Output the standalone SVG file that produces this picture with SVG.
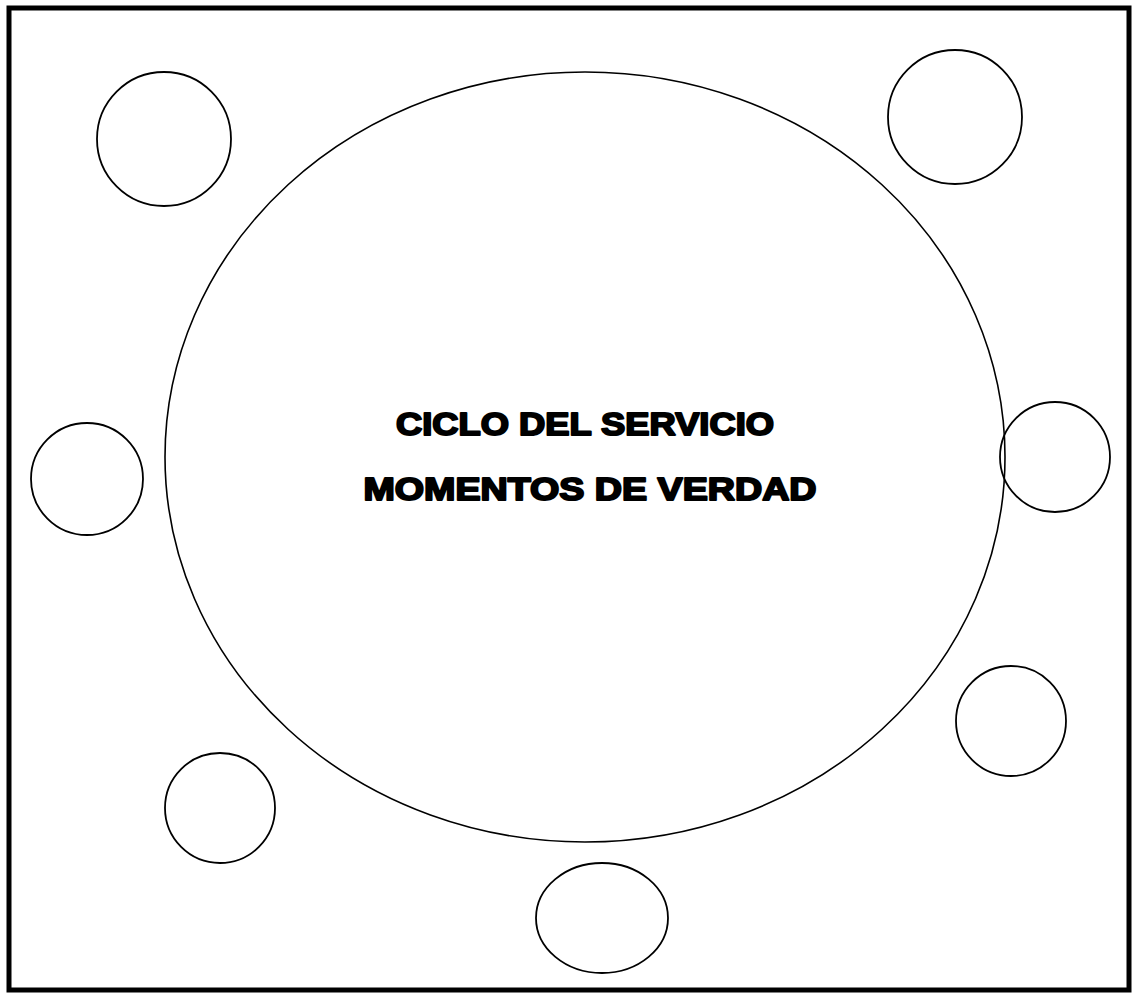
<svg xmlns="http://www.w3.org/2000/svg" width="1133" height="995" viewBox="0 0 1133 995">
<style>
.frame{fill:none;stroke:#000;stroke-width:5}
.big{fill:none;stroke:#000;stroke-width:1.6}
.small{fill:none;stroke:#000;stroke-width:1.8}
.title{font-family:"Liberation Sans",Arial,sans-serif;font-weight:bold;font-size:32px;fill:#000;stroke:#000;stroke-width:2;stroke-linejoin:round;text-anchor:middle}
</style>
<rect width="1133" height="995" fill="#fff"/>
<rect class="frame" x="9" y="8" width="1120" height="982"/>
<g id="ciclo">
<ellipse class="big" cx="585" cy="457" rx="420" ry="385"/>
<text class="title" x="585" y="435" textLength="378" lengthAdjust="spacingAndGlyphs">CICLO DEL SERVICIO</text>
<text class="title" x="590" y="500" textLength="453" lengthAdjust="spacingAndGlyphs">MOMENTOS DE VERDAD</text>
</g>
<g id="m1"><circle class="small" cx="164" cy="139" r="67"/></g>
<g id="m2"><circle class="small" cx="955" cy="117" r="67"/></g>
<g id="m3"><circle class="small" cx="87" cy="479" r="56"/></g>
<g id="m4"><circle class="small" cx="1055" cy="457" r="55"/></g>
<g id="m5"><circle class="small" cx="1011" cy="721" r="55"/></g>
<g id="m6"><circle class="small" cx="220" cy="808" r="55"/></g>
<g id="m7"><ellipse class="small" cx="602" cy="918" rx="66" ry="55"/></g>
<g id="connectors"></g>
</svg>
